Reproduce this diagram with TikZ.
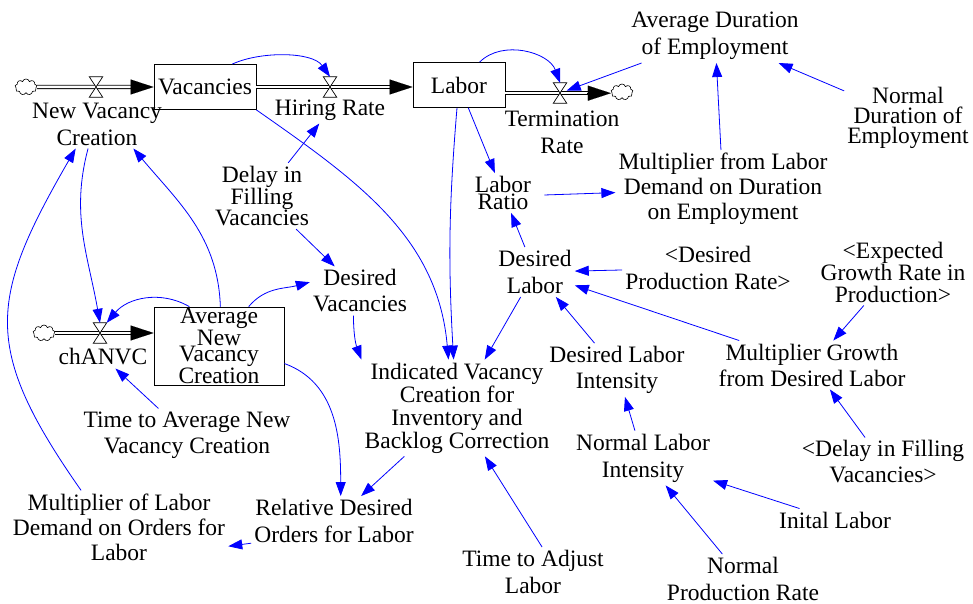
\documentclass[tikz,border=0pt]{standalone}
\usepackage{fontspec}
\setmainfont{Liberation Serif}
\usetikzlibrary{arrows.meta,shapes.symbols,calc}

\begin{document}
\begin{tikzpicture}[x=1pt,y=1pt,
  lbl/.style={align=center, inner sep=3pt, font=\fontsize{23.5}{#1}\selectfont},
  lbl/.default=25,
  stock/.style={draw, line width=0.8pt, inner sep=0pt, align=center,
    font=\fontsize{23.5}{25}\selectfont},
  valve/.style={minimum width=13pt, minimum height=20pt, inner sep=0pt},
  cloudnode/.style={cloud, cloud puffs=9, cloud ignores aspect, draw, line width=0.6pt,
    minimum width=22pt, minimum height=16pt, inner sep=0pt, fill=white},
  pipe/.style={draw, line width=0.8pt, double=white, double distance=2.5pt, shorten >=12pt},
  pipehead/.style={line width=0.1pt, -{Triangle[length=23pt,width=15pt]}},
  link/.style={draw=blue, line width=0.8pt, -{Triangle[length=14pt,width=10pt]}}
]
\useasboundingbox (0,0) rectangle (973,-604);

% stocks and clouds
\node[cloudnode] (c1) at (26,-87) {};
\node[stock, minimum width=102pt, minimum height=45pt] (vac) at (205,-87) {Vacancies};
\node[stock, minimum width=92pt, minimum height=45pt] (lab) at (459,-85) {Labor};
\node[cloudnode] (c2) at (622,-92) {};
\node[cloudnode] (c3) at (44,-333) {};
\node[stock, minimum width=130pt, minimum height=78pt,
  font=\fontsize{23.5}{16.5}\selectfont] (anvc) at (219,-346) {Average\\New\\Vacancy\\Creation};

% valves
\node[valve] (v1) at (96,-87) {};
\node[valve] (v2) at (330,-87) {};
\node[valve] (v3) at (560,-93) {};
\node[valve] (v4) at (100,-333) {};

% pipes
\draw[pipe] (c1.east) -- (vac.west);
\draw[pipehead] ($(vac.west)+(-23,0)$) -- (vac.west);
\draw[pipe] (vac.east) -- (vac.east -| lab.west);
\draw[pipehead] ($(vac.east -| lab.west)+(-23,0)$) -- (vac.east -| lab.west);
\draw[pipe] (lab.-10) -- (lab.-10 -| c2.west);
\draw[pipehead] ($(lab.-10 -| c2.west)+(-24,0)$) -- (lab.-10 -| c2.west);
\draw[pipe] (c3.east) -- (c3.east -| anvc.west);
\draw[pipehead] ($(c3.east -| anvc.west)+(-23,0)$) -- (c3.east -| anvc.west);

\foreach \v in {v1,v2,v3,v4}
  \draw[line width=0.7pt, fill=white] (\v.north west) -- (\v.north east)
    -- (\v.south west) -- (\v.south east) -- cycle;

% flow labels
\node[lbl=27] (nvc) at (97,-124) {New Vacancy\\Creation};
\node[lbl] (hr) at (330,-110) {Hiring Rate};
\node[lbl=27] (tr) at (562,-132) {Termination\\Rate};
\node[lbl] (chl) at (103,-357) {chANVC};

% auxiliaries
\node[lbl=21] (dfv) at (262,-196) {Delay in\\Filling\\Vacancies};
\node[lbl=26] (dv) at (360,-291) {Desired\\Vacancies};
\node[lbl=26] (tta) at (187,-435) {Time to Average New\\Vacancy Creation};
\node[lbl=25] (mld) at (119,-527) {Multiplier of Labor\\Demand on Orders for\\Labor};
\node[lbl=27] (rdo) at (334,-521) {Relative Desired\\Orders for Labor};
\node[lbl=23] (ivc) at (457,-408) {Indicated Vacancy\\Creation for\\Inventory and\\Backlog Correction};
\node[lbl=27] (tal) at (533,-572) {Time to Adjust\\Labor};
\node[lbl=17] (lr) at (503,-193) {Labor\\Ratio};
\node[lbl=27] (dl) at (535,-272) {Desired\\Labor};
\node[lbl=25] (mfl) at (723,-189) {Multiplier from Labor\\Demand on Duration\\on Employment};
\node[lbl=27] (ade) at (715,-36) {Average Duration\\of Employment};
\node[lbl=20] (nde) at (908,-118) {Normal\\Duration of\\Employment};
\node[lbl=27] (dpr) at (708,-268) {<Desired\\Production Rate>};
\node[lbl=22] (egr) at (893,-272) {<Expected\\Growth Rate in\\Production>};
\node[lbl=26] (dli) at (617,-370) {Desired Labor\\Intensity};
\node[lbl=26] (mg) at (812,-365) {Multiplier Growth\\from Desired Labor};
\node[lbl=27] (nli) at (643,-458) {Normal Labor\\Intensity};
\node[lbl=26] (dfvb) at (883,-462) {<Delay in Filling\\Vacancies>};
\node[lbl] (il) at (835,-520) {Inital Labor};
\node[lbl=27] (npr) at (743,-579) {Normal\\Production Rate};

% links
\draw[link] (vac.40) to[out=25,in=125,looseness=0.8] (v2.north);
\draw[link] (vac.south east) to[out=-35,in=95] (ivc.100);
\draw[link] (lab.48) to[out=45,in=110] (v3.north);
\draw[link] (ade) -- (v3);
\draw[link] (lab.265) to[bend right=4] (ivc.94);
\draw[link] (lab) -- (lr);
\draw[link] ($(lr.east)+(10,-2)$) -- (mfl);
\draw[link] (mfl) -- (ade);
\draw[link] (nde) -- (ade);
\draw[link] (dl) -- (lr);
\draw[link] (dpr) -- (dl);
\draw[link] (mg) -- (dl);
\draw[link] (dli) -- (dl);
\draw[link] (dl) -- (ivc);
\draw[link] (dfv) -- (hr);
\draw[link] (dfv) -- (dv);
\draw[link] (anvc.53) to[out=50,in=195] (dv.170);
\draw[link] (dv.255) to[bend right=10] (ivc.north west);
\draw[link] (anvc.88) to[out=92,in=-50] (nvc.-34);
\draw[link] (nvc.-110) to[out=-105,in=100] (v4.north);
\draw[link] (anvc.127) to[out=150,in=50] (v4.north east);
\draw[link] (mld.136) to[out=125,in=-120,looseness=1.3] (nvc.-131);
\draw[link] (tta) -- (chl);
\draw[link] (anvc.-15) to[out=-20,in=90] (rdo.75);
\draw[link] (ivc) -- (rdo);
\draw[link] (rdo.195) -- (mld.-10);
\draw[link] (tal.70) -- (ivc.-60);
\draw[link] (nli) -- (dli);
\draw[link] (npr) -- (nli);
\draw[link] (il) -- (nli);
\draw[link] (dfvb) -- (mg);
\draw[link] (egr) -- (mg);
\end{tikzpicture}
\end{document}
